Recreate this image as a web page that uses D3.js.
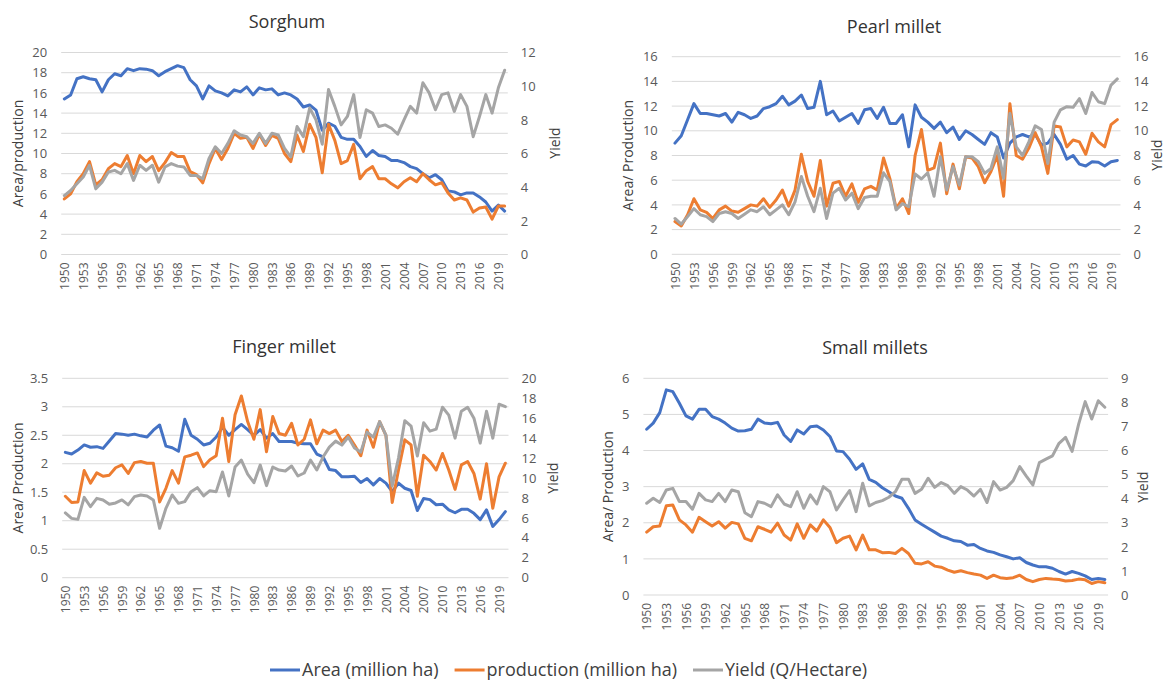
<!DOCTYPE html>
<html>
<head>
<meta charset="utf-8">
<script src="https://cdn.jsdelivr.net/npm/d3@7"></script>
<style>
body { margin: 0; background: #fff; }
svg { font-family: "Open Sans", "Noto Sans", sans-serif; }
.grid line { stroke: #d9d9d9; stroke-width: 1; }
</style>
</head>
<body>
<script>
var years = d3.range(1950, 2021);
var yearTicks = years.filter(function(d, i) { return i % 3 === 0; });

var seriesNames = ["Area (million ha)", "production (million ha)", "Yield (Q/Hectare)"];
var colors = ["#4472c4", "#ed7d31", "#a5a5a5"];

var sorghumArea = [15.4,15.8,17.4,17.6,17.4,17.3,16.1,17.3,17.9,17.7,
  18.4,18.2,18.4,18.35,18.2,17.7,18.1,18.4,18.7,18.5,
  17.3,16.7,15.4,16.7,16.2,16.0,15.7,16.3,16.1,16.6,
  15.8,16.5,16.3,16.4,15.8,16.0,15.8,15.4,14.6,14.8,
  14.3,12.3,13.0,12.7,11.6,11.4,11.4,10.7,9.7,10.3,
  9.8,9.7,9.3,9.3,9.1,8.7,8.5,8.0,7.6,7.9,
  7.4,6.3,6.2,5.9,6.1,6.1,5.7,5.2,4.3,4.9,4.3];
var sorghumProd = [5.5,6.0,7.2,8.0,9.2,6.9,7.4,8.5,9.0,8.7,
  9.8,8.0,9.8,9.2,9.7,8.3,9.1,10.1,9.7,9.7,
  8.2,7.9,7.1,9.0,10.5,9.4,10.5,12.0,11.5,11.6,
  10.5,11.9,10.8,11.8,11.5,10.0,9.2,11.8,10.2,12.9,
  11.6,8.1,12.9,11.3,9.0,9.3,10.9,7.5,8.3,8.7,
  7.5,7.5,7.0,6.6,7.2,7.6,7.2,8.0,7.4,6.9,
  7.1,6.1,5.4,5.6,5.4,4.2,4.6,4.7,3.5,4.8,4.8];
var sorghumYield = [3.5,3.8,4.2,4.6,5.3,3.9,4.3,4.9,5.0,4.8,
  5.4,4.4,5.3,5.0,5.3,4.3,5.2,5.4,5.25,5.2,
  4.7,4.7,4.5,5.7,6.4,6.0,6.6,7.35,7.1,7.0,
  6.6,7.2,6.6,7.2,7.1,6.3,5.8,7.6,7.0,8.7,
  8.0,6.55,9.8,8.8,7.7,8.2,9.5,6.95,8.6,8.4,
  7.6,7.7,7.5,7.15,8.0,8.8,8.4,10.2,9.6,8.6,
  9.5,9.6,8.5,9.5,8.8,7.0,8.2,9.5,8.4,9.9,10.95];

var pearlArea = [9.0,9.6,10.9,12.2,11.4,11.4,11.3,11.2,11.4,10.7,
  11.5,11.3,11.0,11.2,11.8,11.95,12.2,12.8,12.1,12.4,
  12.9,11.8,11.9,14.0,11.3,11.6,10.8,11.1,11.4,10.6,
  11.7,11.8,11.0,11.9,10.6,10.6,11.3,8.7,12.1,11.1,
  10.7,10.2,10.7,9.85,10.3,9.3,10.0,9.7,9.3,8.9,
  9.85,9.5,7.8,9.0,9.5,9.7,9.5,9.7,8.85,9.0,
  9.7,8.9,7.7,8.0,7.3,7.15,7.5,7.45,7.15,7.5,7.6];
var pearlProd = [2.65,2.3,3.2,4.5,3.6,3.4,2.9,3.6,3.9,3.5,
  3.4,3.7,4.0,3.9,4.5,3.8,4.4,5.2,3.9,5.2,
  8.1,5.9,4.7,7.6,3.9,5.75,5.9,4.7,5.7,4.2,
  5.3,5.5,5.2,7.8,6.15,3.7,4.5,3.3,8.0,10.1,
  6.8,7.0,9.0,4.9,7.3,5.3,7.9,7.8,7.1,5.8,
  6.7,8.0,4.7,12.2,8.0,7.7,8.6,9.85,8.7,6.55,
  10.4,10.3,8.7,9.25,9.1,8.1,9.8,9.1,8.7,10.5,10.9];
var pearlYield = [2.9,2.45,3.05,3.7,3.2,3.05,2.65,3.3,3.45,3.3,
  2.9,3.25,3.6,3.45,3.85,3.2,3.6,4.0,3.2,4.25,
  6.3,4.7,3.45,5.35,2.9,4.95,5.35,4.4,4.95,3.7,
  4.6,4.7,4.7,6.6,5.9,3.6,4.1,3.85,6.5,6.1,
  6.6,4.7,7.9,5.2,7.1,5.6,7.9,7.9,7.5,6.55,
  6.95,8.7,6.15,11.4,8.7,8.0,9.1,10.4,10.1,7.35,
  10.7,11.7,11.95,11.9,12.6,11.4,13.1,12.35,12.2,13.7,14.2];

var fingerArea = [2.2,2.17,2.24,2.33,2.29,2.3,2.27,2.4,2.53,2.52,
  2.5,2.52,2.49,2.47,2.59,2.68,2.31,2.28,2.22,2.78,
  2.5,2.43,2.33,2.36,2.47,2.64,2.5,2.6,2.69,2.6,
  2.5,2.6,2.45,2.53,2.39,2.39,2.39,2.36,2.35,2.35,
  2.17,2.12,1.9,1.88,1.77,1.77,1.78,1.67,1.74,1.63,
  1.74,1.66,1.51,1.66,1.57,1.53,1.18,1.39,1.37,1.28,
  1.29,1.19,1.14,1.2,1.2,1.13,1.02,1.19,0.9,1.02,1.16];
var fingerProd = [1.43,1.32,1.33,1.88,1.66,1.84,1.78,1.8,1.93,1.98,
  1.83,2.02,2.04,2.01,2.01,1.33,1.57,1.88,1.66,2.12,
  2.15,2.19,1.95,2.07,2.14,2.8,2.04,2.86,3.19,2.74,
  2.43,2.95,2.21,2.83,2.53,2.5,2.71,2.33,2.43,2.77,
  2.35,2.59,2.53,2.59,2.39,2.5,2.33,2.14,2.59,2.29,
  2.74,2.5,1.32,1.89,2.42,2.33,1.43,2.15,2.04,1.89,
  2.18,1.89,1.55,1.98,2.04,1.83,1.38,2.0,1.22,1.77,2.01];
var fingerYield = [6.5,5.95,5.85,8.06,7.12,7.96,7.8,7.36,7.5,7.8,
  7.3,8.13,8.3,8.2,7.8,4.95,6.96,8.3,7.46,7.63,
  8.63,9.03,8.2,8.73,8.63,10.6,8.2,11.1,11.8,10.4,
  9.53,11.3,9.23,11.1,10.8,10.7,11.2,10.2,10.5,11.8,
  10.8,12.1,13.1,13.7,13.3,14.1,13.0,12.6,14.6,14.1,
  15.65,14.3,9.2,12.0,15.75,15.2,12.2,15.55,14.7,14.9,
  17.1,16.3,14.0,16.7,17.1,16.0,13.5,16.7,14.0,17.4,17.15];

var smallArea = [4.59,4.76,5.05,5.68,5.63,5.31,4.96,4.87,5.14,5.14,
  4.94,4.87,4.76,4.62,4.54,4.55,4.59,4.87,4.76,4.74,
  4.78,4.43,4.25,4.57,4.46,4.66,4.68,4.57,4.39,3.99,
  3.97,3.76,3.48,3.63,3.2,3.12,2.97,2.86,2.74,2.68,
  2.4,2.08,1.96,1.85,1.74,1.63,1.57,1.5,1.48,1.38,
  1.4,1.29,1.22,1.18,1.11,1.06,1.0,1.03,0.9,0.83,
  0.78,0.78,0.74,0.65,0.58,0.65,0.6,0.53,0.43,0.46,0.43];
var smallProd = [1.74,1.89,1.91,2.47,2.49,2.08,1.94,1.74,2.15,2.03,
  1.91,2.03,1.85,2.01,1.97,1.57,1.5,1.89,1.82,1.74,
  1.99,1.66,1.52,1.97,1.57,1.94,1.77,2.08,1.87,1.45,
  1.57,1.63,1.25,1.66,1.25,1.25,1.17,1.18,1.15,1.29,
  1.15,0.88,0.86,0.92,0.8,0.77,0.69,0.63,0.67,0.62,
  0.58,0.55,0.46,0.55,0.48,0.46,0.48,0.55,0.43,0.37,
  0.43,0.46,0.44,0.43,0.39,0.4,0.44,0.42,0.32,0.37,0.34];
var smallYield = [3.81,4.02,3.84,4.36,4.43,3.88,3.88,3.56,4.22,3.95,
  3.88,4.22,3.88,4.36,4.29,3.42,3.25,3.88,3.81,3.67,
  4.16,3.78,3.67,4.29,3.6,4.16,3.78,4.5,4.29,3.53,
  3.95,4.34,3.46,4.64,3.7,3.84,3.92,4.06,4.29,4.81,
  4.81,4.22,4.39,4.85,4.47,4.67,4.54,4.22,4.5,4.36,
  4.11,4.39,3.84,4.71,4.36,4.47,4.75,5.33,4.94,4.57,
  5.5,5.64,5.78,6.3,6.55,5.96,7.1,8.03,7.31,8.07,7.8];

var sorghumLeftTicks = d3.range(0, 21, 2), sorghumRightTicks = d3.range(0, 13, 2);
var pearlLeftTicks = d3.range(0, 17, 2), pearlRightTicks = d3.range(0, 17, 2);
var fingerLeftTicks = [0, 0.5, 1, 1.5, 2, 2.5, 3, 3.5], fingerRightTicks = d3.range(0, 21, 2);
var smallLeftTicks = d3.range(0, 7, 1), smallRightTicks = d3.range(0, 10, 1);

var width = 1168, height = 681;

var svg = d3.select("body").append("svg")
    .attr("width", width)
    .attr("height", height);

var panels = [
  {title: "Sorghum", area: sorghumArea, prod: sorghumProd, yld: sorghumYield,
   leftTicks: sorghumLeftTicks, rightTicks: sorghumRightTicks, leftLabel: "Area/production",
   x0: 61.2, x1: 507.8, yTop: 52.5, yBot: 254.5, titleX: 287, titleY: 28,
   leftLabelX: 18, yieldLabelX: 555, yieldLabelY: 143},
  {title: "Pearl millet", area: pearlArea, prod: pearlProd, yld: pearlYield,
   leftTicks: pearlLeftTicks, rightTicks: pearlRightTicks, leftLabel: "Area/ Production",
   x0: 671.8, x1: 1120.5, yTop: 56.7, yBot: 254.3, titleX: 894, titleY: 33,
   leftLabelX: 628, yieldLabelX: 1157, yieldLabelY: 155},
  {title: "Finger millet", area: fingerArea, prod: fingerProd, yld: fingerYield,
   leftTicks: fingerLeftTicks, rightTicks: fingerRightTicks, leftLabel: "Area/ Production",
   x0: 62.2, x1: 508.5, yTop: 378.3, yBot: 577.7, titleX: 284, titleY: 353,
   leftLabelX: 18, yieldLabelX: 553, yieldLabelY: 478},
  {title: "Small millets", area: smallArea, prod: smallProd, yld: smallYield,
   leftTicks: smallLeftTicks, rightTicks: smallRightTicks, leftLabel: "Area/ Production",
   x0: 643.4, x1: 1108.1, yTop: 378.3, yBot: 595, titleX: 875, titleY: 354,
   leftLabelX: 608, yieldLabelX: 1143, yieldLabelY: 487}
];

panels.forEach(drawPanel);

function drawPanel(p) {
  var g = svg.append("g");
  var x = d3.scalePoint().domain(years).range([p.x0, p.x1]).padding(0.5);
  var yL = d3.scaleLinear().domain([0, d3.max(p.leftTicks)]).range([p.yBot, p.yTop]);
  var yR = d3.scaleLinear().domain([0, d3.max(p.rightTicks)]).range([p.yBot, p.yTop]);

  g.append("g").attr("class", "grid")
    .selectAll("line").data(p.leftTicks).join("line")
    .attr("x1", p.x0).attr("x2", p.x1)
    .attr("y1", function(d) { return yL(d); })
    .attr("y2", function(d) { return yL(d); });

  var fmt = d3.format("~g");
  var leftAx = g.append("g")
    .attr("transform", "translate(" + p.x0 + ",0)")
    .call(d3.axisLeft(yL).tickValues(p.leftTicks).tickSize(0).tickPadding(14).tickFormat(fmt));
  var rightAx = g.append("g")
    .attr("transform", "translate(" + p.x1 + ",0)")
    .call(d3.axisRight(yR).tickValues(p.rightTicks).tickSize(0).tickPadding(13).tickFormat(fmt));
  var bottomAx = g.append("g")
    .attr("transform", "translate(0," + p.yBot + ")")
    .call(d3.axisBottom(x).tickValues(yearTicks).tickSize(0));
  bottomAx.selectAll("text")
    .attr("transform", "rotate(-90)")
    .attr("x", -8).attr("y", 0).attr("dy", "0.35em")
    .style("text-anchor", "end")
    .attr("font-size", 12);

  [leftAx, rightAx, bottomAx].forEach(function(a) {
    a.select(".domain").remove();
    a.attr("font-family", null).attr("font-size", null);
    a.selectAll("text").attr("fill", "#595959");
  });
  leftAx.selectAll("text").attr("font-size", 13);
  rightAx.selectAll("text").attr("font-size", 13);

  var lineL = d3.line().x(function(d, i) { return x(years[i]); }).y(function(d) { return yL(d); });
  var lineR = d3.line().x(function(d, i) { return x(years[i]); }).y(function(d) { return yR(d); });

  g.append("path").datum(p.area).attr("d", lineL)
    .attr("fill", "none").attr("stroke", colors[0]).attr("stroke-width", 3)
    .attr("stroke-linejoin", "round").attr("stroke-linecap", "round");
  g.append("path").datum(p.prod).attr("d", lineL)
    .attr("fill", "none").attr("stroke", colors[1]).attr("stroke-width", 3)
    .attr("stroke-linejoin", "round").attr("stroke-linecap", "round");
  g.append("path").datum(p.yld).attr("d", lineR)
    .attr("fill", "none").attr("stroke", colors[2]).attr("stroke-width", 3)
    .attr("stroke-linejoin", "round").attr("stroke-linecap", "round");

  g.append("text")
    .attr("x", p.titleX).attr("y", p.titleY)
    .attr("text-anchor", "middle")
    .attr("font-size", 18).attr("fill", "#333")
    .text(p.title);

  g.append("text")
    .attr("transform", "translate(" + p.leftLabelX + "," + ((p.yTop + p.yBot) / 2) + ") rotate(-90)")
    .attr("text-anchor", "middle").attr("dy", "0.35em")
    .attr("font-size", 14).attr("fill", "#404040")
    .text(p.leftLabel);

  g.append("text")
    .attr("transform", "translate(" + p.yieldLabelX + "," + p.yieldLabelY + ") rotate(-90)")
    .attr("text-anchor", "middle").attr("dy", "0.35em")
    .attr("font-size", 14).attr("fill", "#404040")
    .text("Yield");
}

// legend
var legend = svg.append("g").attr("transform", "translate(0,670)");
var lx = 270;
seriesNames.forEach(function(name, i) {
  legend.append("line")
    .attr("x1", lx).attr("x2", lx + 30).attr("y1", 0).attr("y2", 0)
    .attr("stroke", colors[i]).attr("stroke-width", 3);
  var t = legend.append("text")
    .attr("x", lx + 32).attr("y", 0).attr("dy", "0.35em")
    .attr("font-size", 18).attr("fill", "#404040")
    .text(name);
  lx += 32 + t.node().getComputedTextLength() + 16;
});
</script>
</body>
</html>
